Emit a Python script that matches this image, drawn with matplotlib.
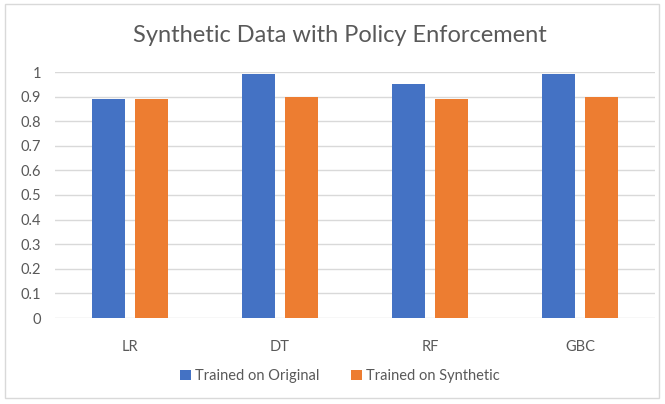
import numpy as np
import matplotlib
matplotlib.use("Agg")
import matplotlib.pyplot as plt
from matplotlib.patches import Rectangle

# donnees
categories = ["LR", "DT", "RF", "GBC"]
original = [0.89, 0.99, 0.95, 0.99]
synthetic = [0.89, 0.90, 0.89, 0.90]
yticks = [0, 0.1, 0.2, 0.3, 0.4, 0.5, 0.6, 0.7, 0.8, 0.9, 1]
ytick_labels = ["0", "0.1", "0.2", "0.3", "0.4", "0.5", "0.6", "0.7", "0.8", "0.9", "1"]

plt.rcParams['font.family'] = ['Lato', 'DejaVu Sans']
gris = "#595959"

fig = plt.figure(figsize=(6.65, 4.04), dpi=100)
ax = fig.add_axes([55/665, 1-318/404, 600/665, 246/404])

x = np.arange(len(categories))
w = 0.22
ax.bar(x - 0.145, original, w, color="#4472C4", label="Trained on Original", zorder=3)
ax.bar(x + 0.145, synthetic, w, color="#ED7D31", label="Trained on Synthetic", zorder=3)

ax.set_xlim(-0.5, 3.5)
ax.set_ylim(0, 1)
ax.set_xticks(x)
ax.set_xticklabels(categories)
ax.set_yticks(yticks)
ax.set_yticklabels(ytick_labels)
ax.tick_params(length=0, labelsize=10.5, colors=gris)
ax.tick_params(axis='x', pad=16)
ax.tick_params(axis='y', pad=10)
ax.grid(axis='y', color="#D9D9D9", linewidth=1, zorder=0)
for s in ax.spines.values():
    s.set_visible(False)

fig.text(340/665, 1-35/404, "Synthetic Data with Policy Enforcement",
         ha='center', va='center', fontsize=17, color=gris)

fig.legend(loc='center', bbox_to_anchor=(340/665, 1-376/404), ncol=2,
           frameon=False, fontsize=10.5, labelcolor=gris,
           handlelength=0.7, handleheight=0.7, handletextpad=0.3, columnspacing=2.2)

fig.patches.append(Rectangle((5/665, 6/404), 654/665, 394/404, transform=fig.transFigure,
                             fill=False, edgecolor="#D9D9D9", linewidth=1))

plt.savefig("out.png", dpi=100)
